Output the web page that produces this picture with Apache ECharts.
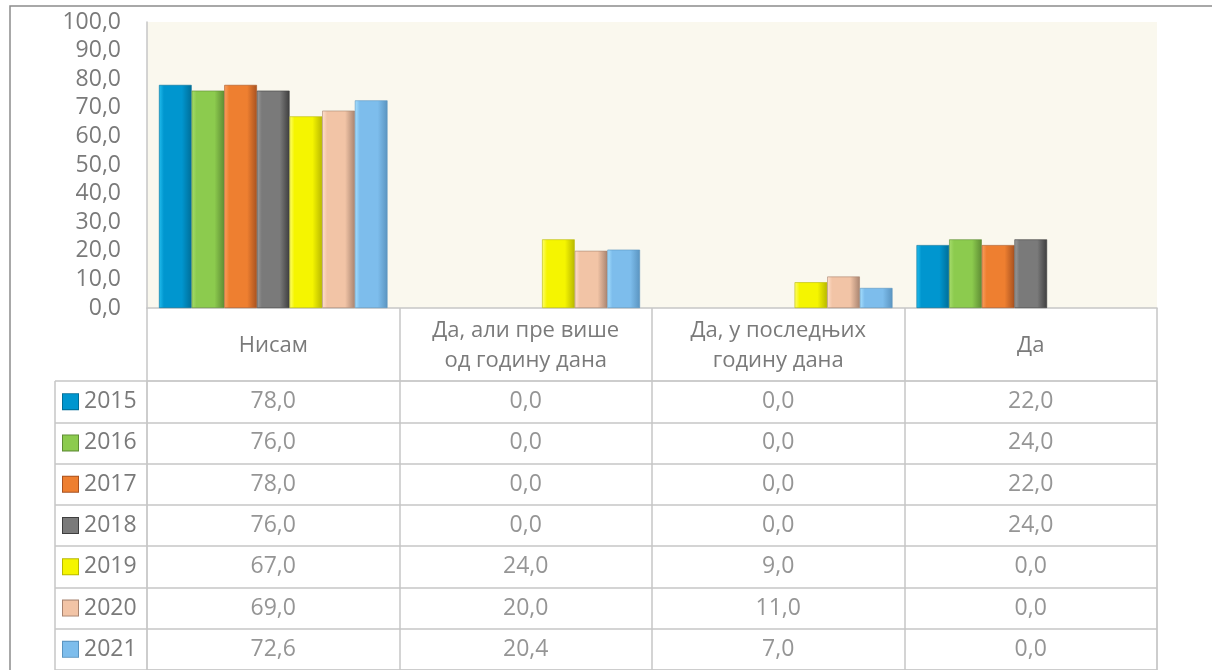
<!DOCTYPE html>
<html>
<head>
<meta charset="utf-8">
<script src="https://cdn.jsdelivr.net/npm/echarts@6/dist/echarts.min.js"></script>
<style>
  html, body { margin: 0; padding: 0; background: #fff; }
  #container { width: 1212px; height: 670px; }
</style>
</head>
<body>
<div id="container"></div>
<script>
// categories and values
var categories = ['Нисам', 'Да, али пре више\nод годину дана', 'Да, у последњих\nгодину дана', 'Да'];
var years = ['2015', '2016', '2017', '2018', '2019', '2020', '2021'];
var v2015 = [78.0, 0.0, 0.0, 22.0];
var v2016 = [76.0, 0.0, 0.0, 24.0];
var v2017 = [78.0, 0.0, 0.0, 22.0];
var v2018 = [76.0, 0.0, 0.0, 24.0];
var v2019 = [67.0, 24.0, 9.0, 0.0];
var v2020 = [69.0, 20.0, 11.0, 0.0];
var v2021 = [72.6, 20.4, 7.0, 0.0];
var yTicks = [0, 10, 20, 30, 40, 50, 60, 70, 80, 90, 100];

var values = [v2015, v2016, v2017, v2018, v2019, v2020, v2021];
// base, light (left bevel), dark (right bevel)
var colors = [
    ['#0096CF', '#22BDEE', '#006E98'],
    ['#8CCB4E', '#A6DC6C', '#5E8C34'],
    ['#EE7F30', '#F9A060', '#A85220'],
    ['#7A7A7A', '#9C9C9C', '#3E3E3E'],
    ['#F5F500', '#FFFF70', '#B8B800'],
    ['#F2C4A6', '#FFE0CC', '#A88470'],
    ['#7DBDEC', '#A6E0FF', '#5A94C0']
];
var fontFam = '"Open Sans", "Noto Sans", sans-serif';
var fSize = 23;
var txtColor = '#7A7A7A';
var lineColor = '#C6C6C6';
var rowH = 41.7;

function fmt(v) { return v.toFixed(1).replace('.', ','); }

var series = [];
years.forEach(function (y, i) {
    var c = colors[i];
    series.push({
        name: y,
        type: 'bar',
        barGap: '0%',
        barCategoryGap: '9.5%',
        // no outline on empty bars
        data: values[i].map(function (v) {
            return v === 0 ? { value: v, itemStyle: { borderWidth: 0 } } : v;
        }),
        itemStyle: {
            borderColor: c[2],
            borderWidth: 0.6,
            color: new echarts.graphic.LinearGradient(0, 0, 1, 0, [
                { offset: 0, color: c[1] },
                { offset: 0.15, color: c[0] },
                { offset: 0.7, color: c[0] },
                { offset: 1, color: c[2] }
            ])
        }
    });
});

// table cells: values placed on a second grid through its category axes
var cells = [];
years.forEach(function (y, i) {
    values[i].forEach(function (v, j) { cells.push([j, i, v]); });
});
series.push({
    type: 'scatter',
    xAxisIndex: 1,
    yAxisIndex: 1,
    symbol: 'rect',
    symbolSize: 1,
    itemStyle: { color: 'rgba(0,0,0,0)' },
    silent: true,
    data: cells,
    label: {
        show: true,
        position: 'inside',
        color: txtColor,
        fontSize: fSize,
        fontFamily: fontFam,
        formatter: function (p) { return fmt(p.value[2]); }
    }
});

var rich = { t: { color: txtColor, fontSize: fSize, fontFamily: fontFam, padding: [0, 0, 0, 6] } };
colors.forEach(function (c, i) {
    rich['c' + i] = { width: 15, height: 15, backgroundColor: c[0], borderColor: c[2], borderWidth: 1 };
});

var myChart = echarts.init(document.getElementById('container'));
var option = {
    backgroundColor: '#ffffff',
    animation: false,
    grid: [
        { left: 147, right: 55, top: 22, bottom: 362, show: true, backgroundColor: '#FAF8EE', borderWidth: 0 },
        { left: 147, right: 55, top: 381, height: rowH * years.length, show: true, borderColor: lineColor, borderWidth: 1 }
    ],
    xAxis: [{
        type: 'category',
        gridIndex: 0,
        data: categories,
        axisLine: { lineStyle: { color: lineColor, width: 1.5 } },
        axisTick: { show: true, interval: 0, length: 73, lineStyle: { color: lineColor, width: 1.5 } },
        axisLabel: {
            interval: 0,
            margin: 38,
            verticalAlign: 'middle',
            color: txtColor,
            fontSize: fSize - 1,
            lineHeight: 30,
            fontFamily: fontFam
        }
    }, {
        type: 'category',
        gridIndex: 1,
        data: categories,
        axisLine: { show: false },
        axisTick: { show: false },
        axisLabel: { show: false },
        splitLine: { show: true, interval: 0, lineStyle: { color: lineColor, width: 1.5 } }
    }],
    yAxis: [{
        type: 'value',
        gridIndex: 0,
        min: yTicks[0],
        max: yTicks[yTicks.length - 1],
        interval: yTicks[1] - yTicks[0],
        axisLine: { show: true, lineStyle: { color: lineColor, width: 1.5 } },
        axisTick: { show: false },
        splitLine: { show: false },
        axisLabel: {
            margin: 26,
            color: txtColor,
            fontSize: fSize,
            fontFamily: fontFam,
            formatter: function (v) { return fmt(v); }
        }
    }, {
        type: 'category',
        gridIndex: 1,
        inverse: true,
        data: years,
        axisLine: { show: false },
        axisTick: { show: true, interval: 0, length: 92, lineStyle: { color: lineColor, width: 1.5 } },
        splitLine: { show: true, interval: 0, lineStyle: { color: lineColor, width: 1.5 } },
        axisLabel: {
            interval: 0,
            align: 'left',
            margin: 84,
            rich: rich,
            formatter: function (v, idx) { return '{c' + idx + '|}{t|' + v + '}'; }
        }
    }],
    graphic: [
        // outer chart frame
        { type: 'rect', shape: { x: 10, y: 6, width: 1400, height: 900 }, style: { fill: null, stroke: '#8C8C8C', lineWidth: 1.5 }, silent: true },
        // left edge of the legend column in the data table
        { type: 'line', shape: { x1: 55, y1: 381, x2: 55, y2: 680 }, style: { stroke: lineColor, lineWidth: 1.5 }, silent: true }
    ],
    series: series
};
myChart.setOption(option);
</script>
</body>
</html>
